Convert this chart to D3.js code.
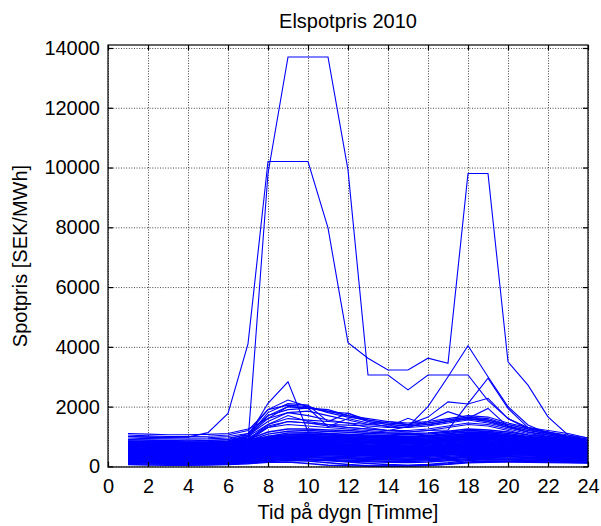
<!DOCTYPE html>
<html><head><meta charset="utf-8">
<script src="https://cdn.jsdelivr.net/npm/d3@7"></script>
<style>
body{margin:0;background:#fff}
text{font-family:"Liberation Sans",Arial,Helvetica,sans-serif}
</style>
</head><body>
<svg id="c" width="601" height="526"></svg>
<script>
const hours = [1,2,3,4,5,6,7,8,9,10,11,12,13,14,15,16,17,18,19,20,21,22,23,24];
const xTicks = [0,2,4,6,8,10,12,14,16,18,20,22,24];
const yTicks = [0,2000,4000,6000,8000,10000,12000,14000];
const titleText = "Elspotpris 2010";
const xLabel = "Tid på dygn [Timme]";
const yLabel = "Spotpris [SEK/MWh]";

// ordinary days forming the dense band
const normalDays = [
 [820,800,790,780,790,820,900,1150,1250,1250,1220,1200,1150,1120,1100,1120,1180,1250,1220,1150,1050,980,900,800],
 [780,760,750,740,750,780,860,1080,1180,1200,1170,1140,1100,1080,1060,1080,1140,1200,1180,1100,1000,940,870,780],
 [750,730,720,710,720,750,820,1000,1120,1130,1100,1080,1050,1030,1010,1030,1090,1150,1130,1060,970,910,850,760],
 [720,700,690,680,690,720,790,960,1060,1080,1060,1040,1010,990,980,1000,1050,1100,1090,1020,940,880,820,740],
 [700,680,670,660,665,690,760,920,1010,1030,1010,990,960,940,930,950,1000,1060,1050,990,910,860,800,720],
 [680,660,650,640,645,670,730,880,970,990,970,950,920,900,890,910,960,1020,1010,950,880,830,780,700],
 [650,630,620,610,615,640,700,840,930,950,930,910,880,860,850,870,920,980,970,910,850,800,750,680],
 [630,610,600,590,595,620,680,810,890,910,890,870,840,820,810,830,880,940,930,880,820,780,730,660],
 [610,590,580,570,575,600,650,780,860,880,860,840,810,790,780,800,850,900,890,850,800,760,710,640],
 [590,570,560,550,555,580,630,750,830,850,830,810,780,760,750,770,820,870,860,820,770,730,690,620],
 [570,550,540,530,535,555,600,720,800,820,800,780,750,730,720,740,790,840,830,790,740,700,670,600],
 [550,530,520,510,515,535,580,690,770,790,770,750,720,700,690,710,760,810,800,760,720,680,650,590],
 [530,510,500,490,495,515,560,660,740,760,740,720,690,670,660,680,730,780,770,730,690,660,630,570],
 [510,490,480,470,475,495,540,630,710,730,710,690,660,640,630,650,700,750,740,700,660,630,610,550],
 [490,470,460,450,455,475,520,610,680,700,680,660,640,620,610,630,680,720,710,680,640,610,590,530],
 [470,450,440,430,435,455,500,590,650,670,650,630,610,590,580,600,650,690,680,650,620,590,570,510],
 [450,430,420,410,415,435,480,570,620,640,620,600,580,560,550,570,620,660,650,620,600,570,550,500],
 [430,410,400,390,395,415,460,550,600,610,600,580,560,540,530,550,590,630,620,600,580,550,530,480],
 [410,390,380,370,375,395,440,520,580,590,580,560,540,520,510,530,570,600,600,580,560,530,510,460],
 [390,370,360,350,355,375,420,500,560,570,560,540,520,500,490,510,550,580,580,560,540,510,490,440],
 [370,350,340,330,335,355,400,480,540,550,540,520,500,480,470,490,530,560,560,540,520,490,470,420],
 [350,330,320,310,315,335,380,460,510,520,510,500,480,460,450,470,510,540,540,520,500,470,450,400],
 [330,310,300,290,295,315,360,440,490,500,490,480,460,440,430,450,490,520,520,500,480,450,430,380],
 [310,290,280,270,275,295,340,420,470,480,470,460,440,420,410,430,470,500,500,480,460,430,410,360],
 [290,270,260,250,255,275,320,400,450,460,450,440,420,400,390,410,450,480,480,460,440,410,390,340],
 [270,250,240,230,235,255,300,380,430,440,430,420,400,380,370,390,430,460,460,440,420,390,370,320],
 [250,230,220,210,215,235,280,360,410,420,410,400,380,360,350,370,410,440,440,420,400,370,350,300],
 [230,210,200,190,195,215,260,340,390,400,390,380,360,340,330,350,390,420,420,400,380,350,330,280]
];

// summer days with a flatter profile
const summerDays = [
 [840,820,810,800,805,830,880,1000,1060,1070,1050,1030,1010,1000,990,1000,1040,1080,1070,1030,980,940,900,830],
 [800,785,775,765,770,790,840,950,1010,1020,1000,985,965,955,945,955,995,1035,1025,985,940,900,860,795],
 [765,750,740,730,735,755,800,905,965,975,955,940,920,910,900,910,950,990,980,945,900,860,825,760],
 [735,720,710,700,705,725,770,870,925,935,915,900,880,870,860,870,910,950,940,905,865,830,795,735],
 [710,695,685,675,680,700,745,840,890,900,880,865,845,835,825,835,875,915,905,870,835,800,765,705],
 [665,650,640,630,635,655,695,780,830,840,820,805,785,775,765,775,815,855,845,810,780,750,715,660],
 [600,570,550,540,540,560,620,760,820,800,770,740,700,680,670,690,740,790,780,750,720,690,660,610],
 [560,530,515,505,505,525,580,710,770,755,725,695,660,640,630,650,700,745,735,705,680,650,620,575],
 [520,495,480,470,470,490,545,665,720,705,680,650,620,600,590,610,655,700,690,665,640,610,585,540],
 [485,460,445,435,435,455,505,620,675,660,635,610,580,560,550,570,615,655,650,625,600,575,550,505],
 [450,425,410,400,400,420,470,580,630,615,590,565,540,520,510,530,575,615,610,585,565,540,515,470],
 [415,390,375,365,365,385,435,540,585,570,550,525,500,485,475,495,535,570,565,545,525,505,480,440],
 [380,360,345,335,335,355,400,500,545,530,510,490,465,450,440,460,500,535,530,510,490,470,450,410],
 [345,325,310,300,300,320,365,460,500,490,470,450,430,415,405,425,460,495,490,470,455,435,415,380],
 [310,290,275,265,265,285,330,420,460,450,430,410,390,375,365,385,420,455,450,435,420,400,385,350],
 [275,255,240,230,230,250,295,380,420,410,390,370,350,335,325,345,380,415,410,395,380,365,350,320],
 [240,220,205,195,195,215,260,340,380,370,350,330,310,295,285,305,340,375,370,355,345,330,315,290],
 [210,190,175,165,165,185,225,300,340,330,310,290,270,255,245,265,300,335,330,320,310,295,285,260],
 [180,165,150,140,140,160,195,265,300,290,270,250,230,215,205,225,260,295,295,285,275,265,255,235],
 [160,145,130,120,120,135,170,235,265,250,230,210,190,175,165,185,220,255,260,250,245,235,225,210],
 [130,115,100,90,90,105,140,200,230,215,195,175,155,140,130,150,185,220,225,220,215,205,195,180]
];

// cheap days at the bottom of the band
const lowDays = [
 [200,180,170,160,165,180,220,300,330,320,300,280,260,240,230,250,290,330,340,330,310,290,270,240],
 [150,130,120,110,115,130,160,220,260,240,200,150,100,60,40,60,120,200,230,220,200,180,170,150],
 [100,80,70,60,65,80,110,160,200,180,120,60,20,10,10,30,80,150,180,170,160,150,140,120],
 [60,50,40,40,45,60,90,140,150,100,40,20,15,15,20,40,70,120,140,150,140,130,120,110]
];

// cold winter days
const winterDays = [
 [1100,1080,1060,1060,1070,1100,1250,1600,2000,1950,1900,1700,1600,1500,1450,1500,1600,1700,1650,1450,1300,1200,1100,950],
 [1050,1020,1000,1000,1010,1050,1200,1900,2050,2000,1800,1650,1550,1450,1400,1450,1550,1650,1600,1400,1250,1150,1050,900],
 [1000,980,960,950,960,1000,1100,1700,1900,1950,1850,1700,1500,1400,1350,1400,1500,1600,1500,1350,1200,1100,1000,880],
 [950,930,920,910,920,950,1050,1500,1800,1850,1700,1550,1400,1350,1300,1350,1450,1550,1450,1300,1150,1050,950,850],
 [900,880,870,860,870,900,1000,1400,1700,1500,1400,1300,1250,1200,1200,1250,1350,1450,1400,1250,1100,1000,920,820],
 [860,840,830,820,830,860,950,1300,1500,1450,1350,1300,1250,1200,1150,1200,1300,1400,1350,1200,1050,980,900,800]
];

// days with visible price spikes
const spikeDays = [
 [800,780,760,750,760,800,1000,2110,2830,1160,1100,1050,1000,980,970,1000,1100,1200,1150,1050,950,900,850,800],
 [900,880,860,850,860,900,1100,1900,2220,2000,1830,1780,1500,1400,1350,1400,1500,1600,1550,1400,1250,1150,1000,900],
 [850,830,820,810,820,850,1000,1800,2100,2050,1500,1780,1550,1450,1400,1450,1550,1650,1550,1350,1200,1100,980,880],
 [800,780,770,760,770,800,950,1700,2000,1950,1330,1600,1450,1330,1610,1380,1500,1600,1500,1300,1150,1050,950,850],
 [780,760,750,740,750,780,900,1400,1600,1550,1500,1450,1400,1500,1400,1650,2160,2090,2280,1600,1250,1050,900,800],
 [760,740,730,720,730,760,880,1350,1500,1450,1400,1380,1350,1300,1300,1500,1830,1610,1940,1330,1150,1000,880,780],
 [700,680,670,660,670,700,850,1300,1400,1350,1300,1250,1200,1150,1150,1200,1220,2100,2950,1940,1300,1100,950,850],
 [820,780,760,750,770,850,1050,1600,1800,1700,1550,1450,1300,1200,1330,2000,3000,4040,3000,2000,1385,1100,1000,900]
];

// extreme days
const peakDays = [
 [720,680,650,640,660,740,820,9800,13700,13700,13700,9920,3060,3060,2560,3060,3060,3060,2200,1600,1300,1150,1000,900],
 [1000,980,970,980,1130,1775,4100,10200,10200,10200,7980,4140,3620,3225,3225,3620,3450,9800,9800,3500,2720,1660,1050,950]
];

const bandDays = [...lowDays, ...summerDays, ...normalDays];
const otherDays = [...winterDays, ...spikeDays, ...peakDays];

const W = 601, H = 526;
const L = 108, R = 588, T = 45, B = 467;
const svg = d3.select("#c");
svg.append("rect").attr("width", W).attr("height", H).attr("fill", "#fff");

const x = d3.scaleLinear().domain([0, 24]).range([L, R]);
const y = d3.scaleLinear().domain([-20, 14100]).range([B, T]);

// grid
const grid = svg.append("g");
grid.append("g").attr("transform", `translate(0,${B})`)
  .call(d3.axisBottom(x).tickValues(xTicks).tickSize(-(B - T)).tickFormat(""))
  .call(g => g.select(".domain").remove());
grid.append("g").attr("transform", `translate(${L},0)`)
  .call(d3.axisLeft(y).tickValues(yTicks).tickSize(-(R - L)).tickFormat(""))
  .call(g => g.select(".domain").remove());
grid.selectAll("line").attr("stroke", "#444").attr("stroke-width", 1)
  .attr("stroke-dasharray", "1,1.6");

// data lines
svg.append("clipPath").attr("id", "clip").append("rect")
  .attr("x", L).attr("y", T).attr("width", R - L).attr("height", B - T);
const line = d3.line().x((d, i) => x(hours[i])).y(d => y(d));
const plot = svg.append("g").attr("clip-path", "url(#clip)");
plot.append("g").selectAll("path").data(bandDays).join("path")
  .attr("d", line).attr("fill", "none").attr("stroke", "#0000ff").attr("stroke-width", 1.5);
plot.append("g").selectAll("path").data(otherDays).join("path")
  .attr("d", line).attr("fill", "none").attr("stroke", "#0000ff").attr("stroke-width", 1.1);

// axes (MATLAB style inward ticks on all sides)
const fs = 20;
const ax = svg.append("g");
ax.append("g").attr("transform", `translate(0,${B})`)
  .call(d3.axisBottom(x).tickValues(xTicks).tickSize(-5).tickSizeOuter(0).tickPadding(12).tickFormat(d3.format("d")));
ax.append("g").attr("transform", `translate(0,${T})`)
  .call(d3.axisTop(x).tickValues(xTicks).tickSize(-5).tickSizeOuter(0).tickFormat(""));
ax.append("g").attr("transform", `translate(${L},0)`)
  .call(d3.axisLeft(y).tickValues(yTicks).tickSize(-5).tickSizeOuter(0).tickPadding(8).tickFormat(d3.format("d")));
ax.append("g").attr("transform", `translate(${R},0)`)
  .call(d3.axisRight(y).tickValues(yTicks).tickSize(-5).tickSizeOuter(0).tickFormat(""));
ax.selectAll(".domain").remove();
ax.selectAll("line").attr("stroke", "#000").attr("stroke-width", 1.2);
ax.selectAll("text").attr("font-size", fs).attr("fill", "#000")
  .attr("font-family", '"Liberation Sans",Arial,sans-serif');
svg.append("rect").attr("x", L).attr("y", T).attr("width", R - L).attr("height", B - T)
  .attr("fill", "none").attr("stroke", "#000").attr("stroke-width", 1.2);

// titles
svg.append("text").attr("x", (L + R) / 2).attr("y", 28).attr("text-anchor", "middle")
  .attr("font-size", fs).text(titleText);
svg.append("text").attr("x", (L + R) / 2).attr("y", 519).attr("text-anchor", "middle")
  .attr("font-size", fs).text(xLabel);
svg.append("text").attr("transform", `translate(27,${(T + B) / 2}) rotate(-90)`)
  .attr("text-anchor", "middle").attr("font-size", fs).text(yLabel);
</script>
</body></html>
